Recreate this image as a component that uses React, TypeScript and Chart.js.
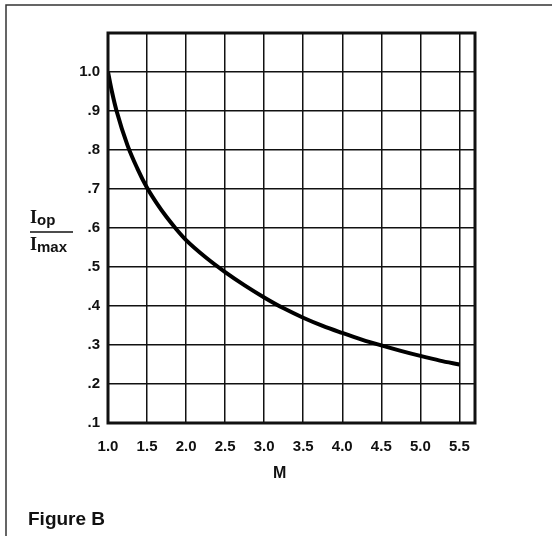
import React, { useEffect, useRef } from "react";
import { Chart, registerables } from "chart.js";

Chart.register(...registerables);

// Data
const mValues = [
  1.0, 1.05, 1.11, 1.25, 1.375, 1.5, 1.625, 1.75, 1.875, 2.0, 2.25, 2.5, 2.75, 3.0,
  3.25, 3.5, 3.75, 4.0, 4.25, 4.5, 4.75, 5.0, 5.25, 5.5,
];
const ratioValues = [
  1.0, 0.95, 0.9, 0.812, 0.753, 0.703, 0.663, 0.628, 0.597, 0.569, 0.525, 0.487, 0.453, 0.422,
  0.394, 0.37, 0.349, 0.331, 0.314, 0.299, 0.285, 0.272, 0.26, 0.25,
];

const xTicks = [1.0, 1.5, 2.0, 2.5, 3.0, 3.5, 4.0, 4.5, 5.0, 5.5];
const xTickLabels = ["1.0", "1.5", "2.0", "2.5", "3.0", "3.5", "4.0", "4.5", "5.0", "5.5"];
const yTicks = [0.1, 0.2, 0.3, 0.4, 0.5, 0.6, 0.7, 0.8, 0.9, 1.0];
const yTickLabels = [".1", ".2", ".3", ".4", ".5", ".6", ".7", ".8", ".9", "1.0"];

const xTitle = "M";
const figureCaption = "Figure B";

const SANS = "'Liberation Sans', Arial, Helvetica, sans-serif";
const SERIF = "'Liberation Serif', 'Times New Roman', serif";
const INK = "#111111";

const decorPlugin = {
  id: "decor",
  afterDraw(chart: any) {
    const { ctx, chartArea, scales } = chart;
    const { left, top, right, bottom } = chartArea;
    ctx.save();
    // plot frame
    ctx.strokeStyle = INK;
    ctx.lineWidth = 3;
    ctx.strokeRect(left, top, right - left, bottom - top);

    // outer figure frame (left and top edges)
    ctx.strokeStyle = "#333333";
    ctx.lineWidth = 1.5;
    ctx.beginPath();
    ctx.moveTo(6, chart.height);
    ctx.lineTo(6, 5);
    ctx.lineTo(chart.width, 5);
    ctx.stroke();

    // x title
    ctx.fillStyle = INK;
    ctx.font = `bold 16px ${SANS}`;
    ctx.textAlign = "center";
    ctx.textBaseline = "alphabetic";
    const mx = scales.x.getPixelForValue(3.2);
    ctx.fillText(xTitle, mx, bottom + 55);

    // y title: I_op / I_max
    const yMid = scales.y.getPixelForValue(0.6);
    const barY = yMid + 4;
    ctx.textAlign = "left";
    ctx.font = `bold 18px ${SERIF}`;
    ctx.fillText("I", 30, barY - 9);
    ctx.fillText("I", 30, barY + 18);
    ctx.font = `bold 15px ${SANS}`;
    ctx.fillText("op", 37, barY - 7);
    ctx.fillText("max", 37, barY + 20);
    ctx.lineWidth = 1.5;
    ctx.strokeStyle = INK;
    ctx.beginPath();
    ctx.moveTo(30, barY);
    ctx.lineTo(73, barY);
    ctx.stroke();

    // caption
    ctx.font = `bold 19px ${SANS}`;
    ctx.fillText(figureCaption, 28, 525);
    ctx.restore();
  },
};

export default function App() {
  const canvasRef = useRef<HTMLCanvasElement | null>(null);

  useEffect(() => {
    const canvas = canvasRef.current;
    if (!canvas) return;
    const chart = new Chart(canvas, {
      type: "line",
      data: {
        datasets: [
          {
            data: mValues.map((m, i) => ({ x: m, y: ratioValues[i] })),
            borderColor: "#000000",
            borderWidth: 4,
            pointRadius: 0,
            cubicInterpolationMode: "monotone",
            fill: false,
          },
        ],
      },
      options: {
        responsive: false,
        animation: false,
        events: [],
        layout: { padding: { left: 0, top: 33, right: 77, bottom: 0 } },
        plugins: {
          legend: { display: false },
          tooltip: { enabled: false },
          title: { display: false },
        },
        scales: {
          x: {
            type: "linear",
            min: 1.0,
            max: 5.7,
            afterBuildTicks: (scale: any) => {
              scale.ticks = xTicks.map((v) => ({ value: v }));
            },
            afterFit: (scale: any) => {
              scale.height = 113;
            },
            border: { display: false },
            grid: { color: INK, lineWidth: 1.5, drawTicks: false },
            ticks: {
              padding: 15,
              color: INK,
              font: { family: SANS, size: 15, weight: "bold" },
              callback: (_v: any, i: number) => xTickLabels[i],
              autoSkip: false,
              maxRotation: 0,
            },
          },
          y: {
            type: "linear",
            min: 0.1,
            max: 1.1,
            afterBuildTicks: (scale: any) => {
              scale.ticks = yTicks.map((v) => ({ value: v }));
            },
            afterFit: (scale: any) => {
              scale.width = 108;
            },
            border: { display: false },
            grid: { color: INK, lineWidth: 1.5, drawTicks: false },
            ticks: {
              padding: 8,
              color: INK,
              font: { family: SANS, size: 15, weight: "bold" },
              callback: (_v: any, i: number) => yTickLabels[i],
              autoSkip: false,
            },
          },
        },
      },
      plugins: [decorPlugin],
    } as any);
    return () => chart.destroy();
  }, []);

  return (
    <div style={{ position: "absolute", left: 0, top: 0, width: 552, height: 536, background: "#fff" }}>
      <canvas ref={canvasRef} width={552} height={536} style={{ display: "block" }} />
    </div>
  );
}
